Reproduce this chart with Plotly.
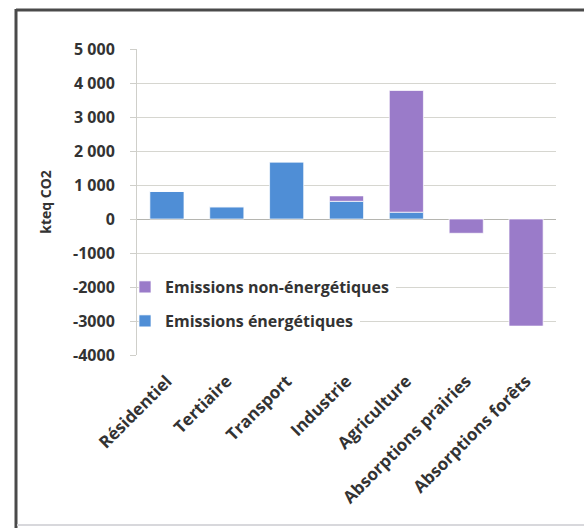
import plotly.graph_objects as go

categories = ["Résidentiel", "Tertiaire", "Transport", "Industrie", "Agriculture",
              "Absorptions prairies", "Absorptions forêts"]
emissions_energetiques = [810, 360, 1680, 520, 200, 0, 0]
emissions_non_energetiques = [0, 0, 0, 160, 3580, -420, -3150]
y_tickvals = [5000, 4000, 3000, 2000, 1000, 0, -1000, -2000, -3000, -4000]
y_ticktext = ["5 000", "4 000", "3 000", "2 000", "1 000", "0", "-1000", "-2000", "-3000", "-4000"]

BLUE = "#4F8ED6"
PURPLE = "#9a7bc9"
FONT = "Open Sans"
TXT = "#333333"

fig = go.Figure()
fig.add_trace(go.Bar(
    x=categories, y=emissions_energetiques, name="Emissions énergétiques",
    marker=dict(color=BLUE, line=dict(color="rgba(255,255,255,0.7)", width=1)),
    width=0.57, legend="legend2",
))
fig.add_trace(go.Bar(
    x=categories, y=emissions_non_energetiques, name="Emissions non-énergétiques",
    marker=dict(color=PURPLE, line=dict(color="rgba(255,255,255,0.7)", width=1)),
    width=0.57, legend="legend",
))

L, R, T, B = 137, 28, 49, 173
W, H = 584, 528
pw, ph = W - L - R, H - T - B

def px_x(p):
    return (p - L) / pw

def px_y(p):
    return (H - B - p) / ph

legfont = dict(size=16, family=FONT, color=TXT, weight="bold")
fig.update_layout(
    width=W, height=H,
    margin=dict(l=L, r=R, t=T, b=B, autoexpand=False),
    barmode="relative",
    paper_bgcolor="white", plot_bgcolor="white",
    font=dict(family=FONT, color=TXT, size=13),
    legend=dict(x=px_x(125), y=px_y(287), yanchor="middle", xanchor="left",
                bgcolor="rgba(0,0,0,0)", font=legfont, itemwidth=30, borderwidth=0),
    legend2=dict(x=px_x(125), y=px_y(321), yanchor="middle", xanchor="left",
                 bgcolor="rgba(0,0,0,0)", font=legfont, itemwidth=30, borderwidth=0),
    showlegend=True,
)
fig.update_yaxes(
    range=[-4000, 5000], tickvals=y_tickvals, ticktext=y_ticktext,
    showgrid=True, gridcolor="#d6d6d0", gridwidth=1,
    zeroline=True, zerolinecolor="#b5b5b0", zerolinewidth=1,
    showline=True, linecolor="#cfcfca", linewidth=1,
    ticks="outside", ticklen=6, tickcolor="#cfcfca", ticklabelstandoff=12,
    tickfont=dict(size=16, family=FONT, color=TXT, weight="bold"),
    title=dict(text="kteq CO2", font=dict(size=14, family=FONT, color=TXT, weight="bold"), standoff=18),
)
fig.update_xaxes(
    tickangle=-45, showgrid=False, showline=False, ticks="", ticklabelstandoff=12,
    tickfont=dict(size=17, family=FONT, color=TXT, weight="bold"),
)

# white legend backgrounds that leave the y axis line visible
fig.add_shape(type="rect", xref="paper", yref="paper",
              x0=px_x(139), x1=px_x(396), y0=px_y(296), y1=px_y(278),
              line=dict(width=0), fillcolor="white", layer="above")
fig.add_shape(type="rect", xref="paper", yref="paper",
              x0=px_x(139), x1=px_x(360), y0=px_y(330), y1=px_y(312),
              line=dict(width=0), fillcolor="white", layer="above")

# outer frame: dark top and left edges, faint bottom edge
fig.add_shape(type="line", xref="paper", yref="paper",
              x0=px_x(16), x1=px_x(584), y0=px_y(10), y1=px_y(10),
              line=dict(color="#4a4a4a", width=3), layer="below")
fig.add_shape(type="line", xref="paper", yref="paper",
              x0=px_x(16), x1=px_x(16), y0=px_y(9), y1=px_y(528),
              line=dict(color="#4a4a4a", width=3), layer="below")
fig.add_shape(type="line", xref="paper", yref="paper",
              x0=px_x(17), x1=px_x(584), y0=px_y(525), y1=px_y(525),
              line=dict(color="#d8d8dc", width=2), layer="below")

fig.write_html("out.html", post_script="document.body.style.margin='0';",
               config={"displayModeBar": False})
